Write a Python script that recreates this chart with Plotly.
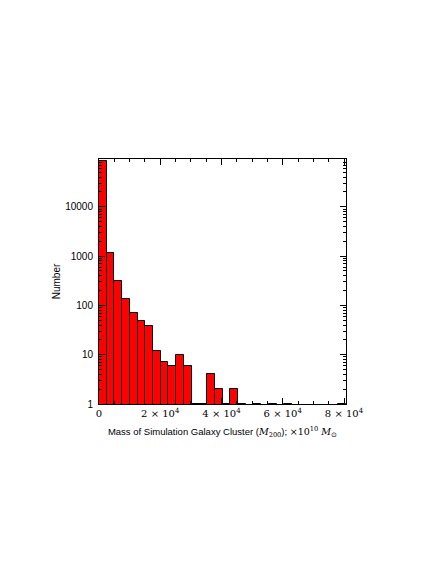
import numpy as np
import plotly.graph_objects as go

# histogram of cluster masses (units of 1e10 Msun), 32 equal bins
X_MAX = 80650
N_BINS = 32
COUNTS = [85000, 1140, 310, 137, 70, 49, 39, 12, 7, 6, 10, 6,
          1, 1, 4, 2, 1, 2, 1, 0, 1, 0, 1, 0, 1, 0, 0, 0, 0, 0, 0, 1]

Y_TICKS = [1, 10, 100, 1000, 10000]
X_TICKS = [0, 20000, 40000, 60000, 80000]
X_TICK_TEXT = ["0", "2 × 10<sup>4</sup>", "4 × 10<sup>4</sup>",
               "6 × 10<sup>4</sup>", "8 × 10<sup>4</sup>"]

edges = np.linspace(0, X_MAX, N_BINS + 1)
centers = 0.5 * (edges[:-1] + edges[1:])
width = edges[1] - edges[0]
counts = [c if c > 0 else None for c in COUNTS]

fig = go.Figure(go.Bar(
    x=centers,
    y=counts,
    width=width,
    marker=dict(color="#ff0000", line=dict(color="black", width=1)),
    hoverinfo="x+y",
))

minor_y = [m * 10 ** k for k in range(0, 5) for m in range(2, 10)]

# page body adds an 8px offset, so margins are shifted to compensate
fig.update_layout(
    width=436, height=564,
    margin=dict(l=91, r=98, t=151, b=168),
    paper_bgcolor="white", plot_bgcolor="white",
    showlegend=False,
    bargap=0,
    font=dict(family="Liberation Sans, Arial, sans-serif", size=10, color="black"),
)

fig.update_xaxes(
    range=[0, X_MAX],
    automargin=False,
    tickvals=X_TICKS, ticktext=X_TICK_TEXT,
    tickfont=dict(family="DejaVu Serif, Liberation Serif, serif", size=10),
    ticks="inside", ticklen=6, tickcolor="black",
    minor=dict(dtick=5000, tick0=0, ticks="inside", ticklen=3, tickcolor="black"),
    showline=True, linecolor="black", linewidth=1, mirror="allticks",
    showgrid=False, zeroline=False,
    title=dict(
        text="Mass of Simulation Galaxy Cluster "
             "(<i><span style='font-family:DejaVu Serif'>M</span></i>"
             "<sub><span style='font-family:DejaVu Serif'>200</span></sub>); "
             "<span style='font-family:DejaVu Serif'>×10<sup>10</sup> <i>M</i></span>"
             "<sub>⊙</sub>",
        font=dict(size=9.5),
        standoff=10,
    ),
)

fig.update_yaxes(
    type="log",
    range=[0, 4.97],
    automargin=False,
    tickvals=Y_TICKS, ticktext=[str(v) for v in Y_TICKS],
    tickfont=dict(size=10),
    ticklabelstandoff=3,
    ticks="inside", ticklen=6, tickcolor="black",
    minor=dict(tickvals=minor_y, ticks="inside", ticklen=3, tickcolor="black"),
    showline=True, linecolor="black", linewidth=1, mirror="allticks",
    showgrid=False, zeroline=False,
    title=dict(text="Number", font=dict(size=10), standoff=2),
)

fig.write_html("out.html")
